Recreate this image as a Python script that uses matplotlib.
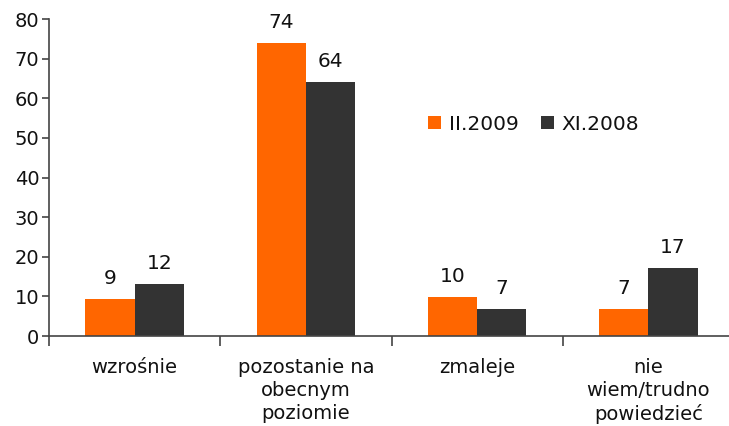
import numpy as np
import matplotlib
matplotlib.use("Agg")
import matplotlib.pyplot as plt

categories = ["wzrośnie", "pozostanie na\nobecnym\npoziomie", "zmaleje", "nie\nwiem/trudno\npowiedzieć"]
series_names = ["II.2009", "XI.2008"]
values_2009 = [9.3, 74, 9.9, 6.8]
values_2008 = [13.0, 64, 6.8, 17.2]
labels_2009 = ["9", "74", "10", "7"]
labels_2008 = ["12", "64", "7", "17"]

orange = "#FF6600"
dark = "#333333"

plt.rcParams['font.family'] = ['DejaVu Sans']

fig = plt.figure(figsize=(7.29, 4.26), dpi=100)
ax = fig.add_axes([49/729, (426-336)/426, 1 - 49/729, 317/426])

x = np.arange(len(categories))
width = 0.287
b1 = ax.bar(x - width/2, values_2009, width, color=orange, label=series_names[0])
b2 = ax.bar(x + width/2, values_2008, width, color=dark, label=series_names[1])

for bars, labs in ((b1, labels_2009), (b2, labels_2008)):
    for b, lab in zip(bars, labs):
        ax.annotate(lab, (b.get_x() + b.get_width()/2, b.get_height()),
                    xytext=(0, 8), textcoords="offset points",
                    ha="center", va="bottom", fontsize=14.5, color="#111111")

ax.set_ylim(0, 80)
ax.set_yticks(range(0, 81, 10))
ax.set_xlim(-0.5, 3.47)

ax.set_xticks(x)
ax.set_xticklabels(categories, fontsize=14, linespacing=1.25, color="#111111")
ax.tick_params(axis="x", which="major", length=0, pad=16)
ax.set_xticks([-0.5, 0.5, 1.5, 2.5], minor=True)
ax.tick_params(axis="x", which="minor", length=7, width=1.2, color="#444444", direction="out")
ax.tick_params(axis="y", length=5, width=1.2, color="#444444", labelsize=14,
               labelcolor="#111111", pad=2)

for s in ("top", "right"):
    ax.spines[s].set_visible(False)
for s in ("left", "bottom"):
    ax.spines[s].set_color("#444444")
    ax.spines[s].set_linewidth(1.2)

leg = ax.legend(loc="upper left", bbox_to_anchor=(0.53, 0.755), ncol=2, frameon=False,
                fontsize=14.5, handlelength=0.65, handleheight=0.65, handletextpad=0.4,
                columnspacing=1.1)
for t in leg.get_texts():
    t.set_color("#111111")

fig.savefig("out.png", dpi=100)
